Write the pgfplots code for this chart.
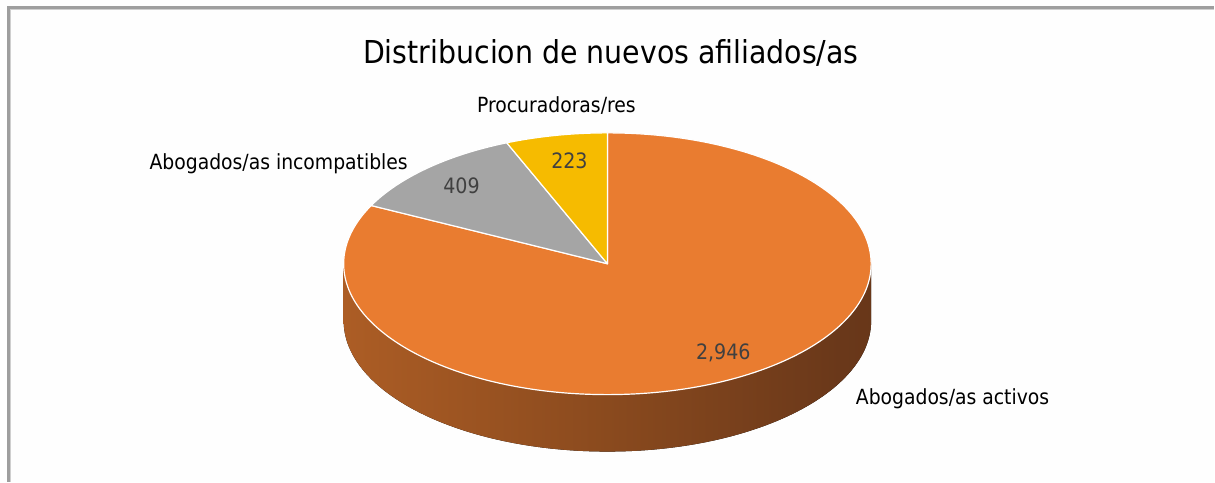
\documentclass[border=0pt]{standalone}
\usepackage{pgfplots}
\pgfplotsset{compat=1.18}
\usepackage{pgfplotstable}
\usepackage{fontspec}
\setmainfont{DejaVu Sans Condensed}
\definecolor{bg}{HTML}{FEFEFE}
\definecolor{cAct}{HTML}{E97C30}
\definecolor{cInc}{HTML}{A5A5A5}
\definecolor{cPro}{HTML}{F6BB00}
\definecolor{lab}{HTML}{404040}
\definecolor{frame}{HTML}{9E9E9E}
\definecolor{sA}{HTML}{C86C2C}
\definecolor{sB}{HTML}{AC5D25}
\definecolor{sC}{HTML}{8A4A1E}
\definecolor{sD}{HTML}{6A381A}
\definecolor{sE}{HTML}{5A2E12}
\pgfdeclarehorizontalshading{pieside}{100bp}{color(0bp)=(sA); color(25bp)=(sB); color(50bp)=(sC); color(72bp)=(sD); color(100bp)=(sE)}

\pgfplotstableread{
label value
activos 2946
incompatibles 409
procuradoras 223
}\piedata

\begin{document}
\begin{tikzpicture}
\pgfplotstablegetelem{0}{value}\of\piedata \pgfmathsetmacro\vA{\pgfplotsretval}
\pgfplotstablegetelem{1}{value}\of\piedata \pgfmathsetmacro\vB{\pgfplotsretval}
\pgfplotstablegetelem{2}{value}\of\piedata \pgfmathsetmacro\vC{\pgfplotsretval}
\pgfmathsetmacro\tot{\vA+\vB+\vC}
\def\cx{608}\def\cy{218}\def\rx{264}\def\ry{131}
\pgfmathsetmacro\aA{90-360*(\vA/\tot)}
\pgfmathsetmacro\aB{\aA-360*(\vB/\tot)}
\pgfmathsetmacro\xA{\cx+\rx*cos(\aA)}
\pgfmathsetmacro\yA{\cy+\ry*sin(\aA)}
\pgfmathsetmacro\xB{\cx+\rx*cos(\aB)}
\pgfmathsetmacro\yB{\cy+\ry*sin(\aB)}
\begin{axis}[
  width=607.5pt, height=241pt, scale only axis,
  xmin=0, xmax=1215, ymin=0, ymax=482,
  axis lines=none, clip=false,
]
% background
\fill[bg] (axis cs:0,0) rectangle (axis cs:1215,482);
% frame
\draw[frame!50, line width=0.6pt] (axis cs:10.2,0) -- (axis cs:10.2,472.8) -- (axis cs:1215,472.8);
\draw[frame, line width=1.2pt] (axis cs:8.5,0) -- (axis cs:8.5,474.5) -- (axis cs:1215,474.5);
% side of the pie
\fill[shading=pieside] (axis cs:\cx-\rx,\cy) arc[start angle=180, end angle=360, x radius=132pt, y radius=65.5pt]
   -- ++(0,-28.5pt) arc[start angle=360, end angle=180, x radius=132pt, y radius=65.5pt] -- cycle;
% top face slices
\filldraw[fill=cAct, draw=white, line width=0.6pt, line join=round] (axis cs:\cx,\cy) -- (axis cs:\cx,\cy+\ry)
   arc[start angle=90, end angle=\aA, x radius=132pt, y radius=65.5pt] -- cycle;
\filldraw[fill=cInc, draw=white, line width=0.6pt, line join=round] (axis cs:\cx,\cy) -- (axis cs:\xA,\yA)
   arc[start angle=\aA, end angle=\aB, x radius=132pt, y radius=65.5pt] -- cycle;
\filldraw[fill=cPro, draw=white, line width=0.6pt, line join=round] (axis cs:\cx,\cy) -- (axis cs:\xB,\yB)
   arc[start angle=\aB, end angle=-270, x radius=132pt, y radius=65.5pt] -- cycle;
% texts
\node[anchor=base, inner sep=0pt, font=\fontsize{15.8pt}{19pt}\selectfont] at (axis cs:611.5,418) {Distribucion de nuevos afiliados/as};
\node[anchor=base, inner sep=0pt, font=\fontsize{10.45pt}{12pt}\selectfont] at (axis cs:557,369) {Procuradoras/res};
\node[anchor=base, inner sep=0pt, font=\fontsize{10.45pt}{12pt}\selectfont] at (axis cs:279,312) {Abogados/as incompatibles};
\node[anchor=base, inner sep=0pt, font=\fontsize{10.45pt}{12pt}\selectfont] at (axis cs:953.5,77) {Abogados/as activos};
\node[anchor=base, inner sep=0pt, text=lab, font=\fontsize{10.6pt}{12pt}\selectfont] at (axis cs:570,313) {223};
\node[anchor=base, inner sep=0pt, text=lab, font=\fontsize{10.6pt}{12pt}\selectfont] at (axis cs:462,288) {409};
\node[anchor=base, inner sep=0pt, text=lab, font=\fontsize{10.6pt}{12pt}\selectfont] at (axis cs:724,122) {2,946};
\end{axis}
\end{tikzpicture}
\end{document}
